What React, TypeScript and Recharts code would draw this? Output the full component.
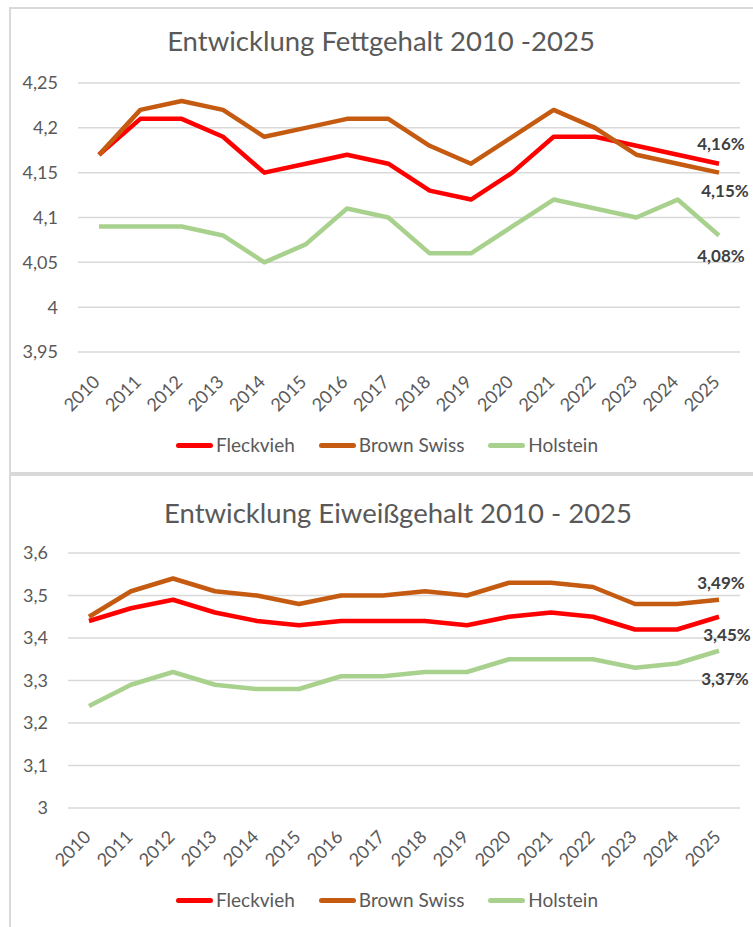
import { LineChart, Line, XAxis, YAxis, CartesianGrid, Legend, LabelList } from "recharts";

const years = [
  "2010", "2011", "2012", "2013", "2014", "2015", "2016", "2017",
  "2018", "2019", "2020", "2021", "2022", "2023", "2024", "2025",
];

// Fettgehalt (%)
const fatFleckvieh = [4.17, 4.21, 4.21, 4.19, 4.15, 4.16, 4.17, 4.16, 4.13, 4.12, 4.15, 4.19, 4.19, 4.18, 4.17, 4.16];
const fatBrownSwiss = [4.17, 4.22, 4.23, 4.22, 4.19, 4.2, 4.21, 4.21, 4.18, 4.16, 4.19, 4.22, 4.2, 4.17, 4.16, 4.15];
const fatHolstein = [4.09, 4.09, 4.09, 4.08, 4.05, 4.07, 4.11, 4.1, 4.06, 4.06, 4.09, 4.12, 4.11, 4.1, 4.12, 4.08];
const fatTicks = [3.95, 4, 4.05, 4.1, 4.15, 4.2, 4.25];

// Eiweißgehalt (%)
const proteinFleckvieh = [3.44, 3.47, 3.49, 3.46, 3.44, 3.43, 3.44, 3.44, 3.44, 3.43, 3.45, 3.46, 3.45, 3.42, 3.42, 3.45];
const proteinBrownSwiss = [3.45, 3.51, 3.54, 3.51, 3.5, 3.48, 3.5, 3.5, 3.51, 3.5, 3.53, 3.53, 3.52, 3.48, 3.48, 3.49];
const proteinHolstein = [3.24, 3.29, 3.32, 3.29, 3.28, 3.28, 3.31, 3.31, 3.32, 3.32, 3.35, 3.35, 3.35, 3.33, 3.34, 3.37];
const proteinTicks = [3, 3.1, 3.2, 3.3, 3.4, 3.5, 3.6];

const seriesNames = ["Fleckvieh", "Brown Swiss", "Holstein"];
const seriesKeys = ["fleckvieh", "brownSwiss", "holstein"];
const seriesColors = ["#ff0000", "#c55a11", "#a9d18e"];

const FONT = "Lato, 'Open Sans', sans-serif";
const TEXT = "#595959";

function buildRows(a: number[], b: number[], c: number[]) {
  return years.map((year, i) => ({ year, fleckvieh: a[i], brownSwiss: b[i], holstein: c[i] }));
}

const fmt = (v: number) => String(v).replace(".", ",");

function YearTick({ x, y, payload, ox, oy }: any) {
  return (
    <g transform={`translate(${x + ox},${y + oy})`}>
      <text textAnchor="end" transform="rotate(-45)" fill={TEXT} fontSize={18} fontFamily={FONT}>
        {payload.value}
      </text>
    </g>
  );
}

function endLabel(last: number, dx: number, dy: number) {
  return (props: any) => {
    if (props.index !== last) return null;
    return (
      <text
        x={props.x + dx}
        y={props.y + dy}
        dy="0.35em"
        textAnchor="middle"
        fill="#404040"
        fontSize={17}
        fontWeight={700}
        fontFamily={FONT}
      >
        {fmt(props.value)}%
      </text>
    );
  };
}

// legend keeps the series order (recharts would sort it by name)
function renderLegend() {
  return (
    <div style={{ display: "flex", alignItems: "center", height: 20, paddingLeft: 176, gap: 24, fontFamily: FONT }}>
      {seriesNames.map((name, i) => (
        <div key={name} style={{ display: "flex", alignItems: "center" }}>
          <div style={{ width: 37, height: 5, borderRadius: 3, background: seriesColors[i], marginRight: 3 }} />
          <span style={{ fontSize: 19, color: TEXT, lineHeight: "20px" }}>{name}</span>
        </div>
      ))}
    </div>
  );
}

type PanelProps = {
  top: number;
  height: number;
  title: string;
  titleCenter: number;
  titleY: number;
  rows: any[];
  ticks: number[];
  axisWidth: number;
  marginTop: number;
  xAxisHeight: number;
  tickOffset: [number, number];
  labelOffsets: [number, number][];
};

function Panel(p: PanelProps) {
  const last = years.length - 1;
  return (
    <div style={{ position: "absolute", left: 0, top: p.top, width: 753, height: p.height }}>
      <div
        style={{
          position: "absolute",
          left: 0,
          width: p.titleCenter * 2,
          top: p.titleY - 16,
          height: 32,
          lineHeight: "32px",
          textAlign: "center",
          fontSize: 27.5,
          color: TEXT,
          fontFamily: FONT,
          whiteSpace: "nowrap",
        }}
      >
        {p.title}
      </div>
      <LineChart
        width={753}
        height={p.height}
        data={p.rows}
        margin={{ top: p.marginTop, right: 13, bottom: 17, left: 0 }}
      >
        <CartesianGrid vertical={false} stroke="#d9d9d9" strokeWidth={1.5} />
        <XAxis
          dataKey="year"
          interval={0}
          axisLine={false}
          tickLine={false}
          tickSize={0}
          height={p.xAxisHeight}
          padding={{ left: 21, right: 21 }}
          tick={<YearTick ox={p.tickOffset[0]} oy={p.tickOffset[1]} />}
        />
        <YAxis
          type="number"
          domain={[p.ticks[0], p.ticks[p.ticks.length - 1]]}
          ticks={p.ticks}
          interval={0}
          width={p.axisWidth}
          axisLine={false}
          tickLine={false}
          tickSize={0}
          tickMargin={20}
          tickFormatter={fmt}
          tick={{ fill: TEXT, fontSize: 18, fontFamily: FONT }}
        />
        <Legend verticalAlign="bottom" height={20} content={renderLegend} wrapperStyle={{ left: 0, width: 753 }} />
        {seriesKeys.map((k, i) => (
          <Line
            key={k}
            type="linear"
            dataKey={k}
            name={seriesNames[i]}
            stroke={seriesColors[i]}
            strokeWidth={4.5}
            strokeLinejoin="round"
            dot={false}
            activeDot={false}
            isAnimationActive={false}
          >
            <LabelList dataKey={k} content={endLabel(last, p.labelOffsets[i][0], p.labelOffsets[i][1])} />
          </Line>
        ))}
      </LineChart>
    </div>
  );
}

export default function App() {
  return (
    <div
      style={{
        position: "absolute",
        left: 0,
        top: 0,
        width: 753,
        height: 927,
        overflow: "hidden",
        background: "#fff",
        fontFamily: FONT,
      }}
    >
      <div style={{ position: "absolute", left: 9, top: 7, width: 770, height: 463, border: "2px solid #d9d9d9" }} />
      <div style={{ position: "absolute", left: 9, top: 474, width: 770, height: 470, border: "2px solid #d9d9d9" }} />
      <Panel
        top={0}
        height={472}
        title="Entwicklung Fettgehalt 2010 -2025"
        titleCenter={381}
        titleY={41}
        rows={buildRows(fatFleckvieh, fatBrownSwiss, fatHolstein)}
        ticks={fatTicks}
        axisWidth={78}
        marginTop={83}
        xAxisHeight={83}
        tickOffset={[2, 29]}
        labelOffsets={[[2, -20], [6, 18], [2, 21]]}
      />
      <Panel
        top={474}
        height={453}
        title="Entwicklung Eiweißgehalt 2010 - 2025"
        titleCenter={398}
        titleY={39}
        rows={buildRows(proteinFleckvieh, proteinBrownSwiss, proteinHolstein)}
        ticks={proteinTicks}
        axisWidth={68}
        marginTop={79}
        xAxisHeight={82}
        tickOffset={[3, 28]}
        labelOffsets={[[8, 18], [2, -17], [6, 28]]}
      />
    </div>
  );
}
